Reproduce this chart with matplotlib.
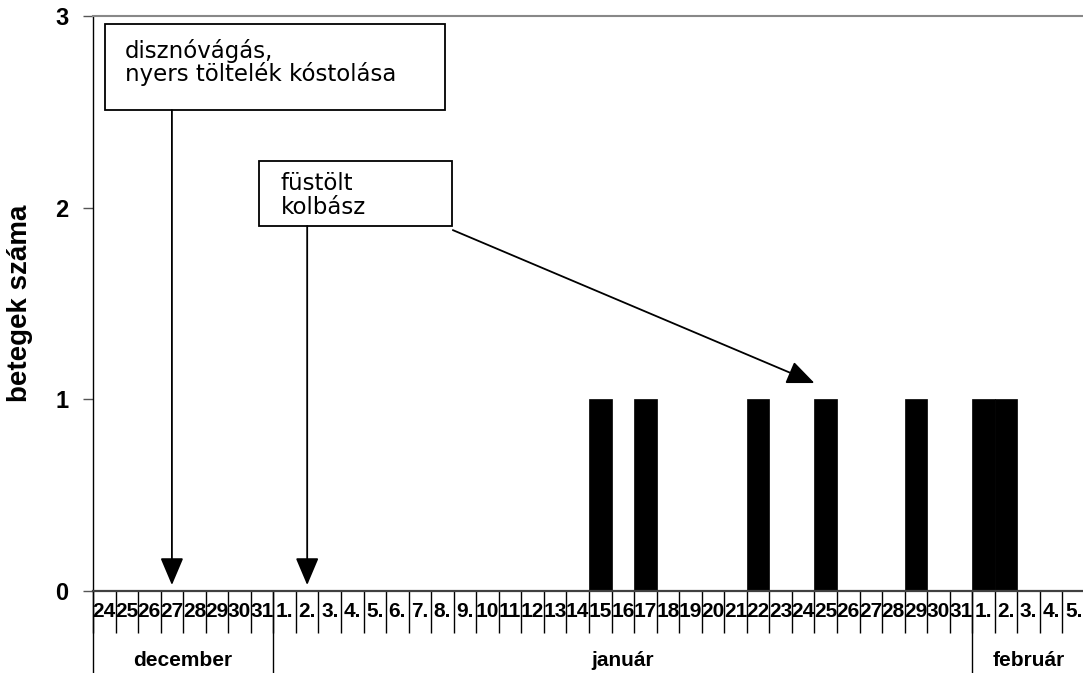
import numpy as np
import matplotlib.pyplot as plt
from matplotlib.patches import Rectangle
from matplotlib.transforms import blended_transform_factory

plt.rcParams['font.family'] = ['Liberation Sans', 'DejaVu Sans']

# days shown on the x axis
dec_days = list(range(24, 32))
jan_days = list(range(1, 32))
feb_days = list(range(1, 6))
months = ['december', 'január', 'február']

# days with one patient each
sick_days = [('jan', 15), ('jan', 17), ('jan', 22), ('jan', 25),
             ('jan', 29), ('feb', 1), ('feb', 2)]

days = [('dec', d) for d in dec_days] + [('jan', d) for d in jan_days] + \
       [('feb', d) for d in feb_days]
counts = [1 if day in sick_days else 0 for day in days]
labels = [f"{d}." if d < 10 else f"{d}" for _, d in days]
x = np.arange(len(days))

fig = plt.figure(figsize=(10.83, 6.73), dpi=100)
ax = fig.add_axes([93 / 1083, 1 - 591 / 673, 992 / 1083, 575 / 673])

ax.bar(x, counts, width=1.0, color='black', edgecolor='black', linewidth=0.5)

ax.set_xlim(-0.5, len(days) - 0.5)
ax.set_ylim(0, 3)
ax.set_yticks([0, 1, 2, 3])
ax.tick_params(axis='y', length=7.5, width=1, color='#555555', pad=10,
               labelsize=17)
for t in ax.get_yticklabels():
    t.set_fontweight('bold')

ax.set_xticks(x)
ax.set_xticklabels(labels, fontsize=15, fontweight='bold')
ax.set_xticks(np.arange(len(days) + 1) - 0.5, minor=True)
ax.tick_params(axis='x', which='major', length=0, pad=8)
ax.tick_params(axis='x', which='minor', length=30, width=1, color='black')

ax.spines['right'].set_visible(False)
ax.spines['top'].set_color('#888888')
ax.spines['top'].set_linewidth(1.5)
ax.spines['bottom'].set_color('#404040')
ax.spines['bottom'].set_linewidth(1.6)
ax.spines['left'].set_color('black')
ax.spines['left'].set_linewidth(1.0)

ax.set_ylabel('betegek száma', fontsize=20, fontweight='bold')
ax.yaxis.set_label_coords(-0.06, 0.5)

# month groups below the day labels
trans = blended_transform_factory(ax.transData, ax.transAxes)
bounds = [0, len(dec_days), len(dec_days) + len(jan_days), len(days)]
for b in bounds[:-1]:
    ax.plot([b - 0.5, b - 0.5], [0, -0.16], transform=trans, color='black',
            lw=1.0, clip_on=False)
for i, m in enumerate(months):
    c = (bounds[i] + bounds[i + 1]) / 2 - 0.5
    ax.text(c, -0.12, m, transform=trans, ha='center', va='center',
            fontsize=15, fontweight='bold')

# annotation boxes
ax.add_patch(Rectangle((0.03, 2.509), 15.08, 0.449, fill=False,
                       edgecolor='black', lw=1.3, clip_on=False))
ax.text(0.92, 2.88, 'disznóvágás,\nnyers töltelék kóstolása', ha='left',
        va='top', fontsize=16.5, family='DejaVu Sans', linespacing=0.95)
ax.add_patch(Rectangle((6.86, 1.904), 8.56, 0.34, fill=False,
                       edgecolor='black', lw=1.3, clip_on=False))
ax.text(7.82, 2.185, 'füstölt\nkolbász', ha='left', va='top', fontsize=16.5,
        family='DejaVu Sans', linespacing=1.05)

arrow = dict(arrowstyle='-|>,head_length=0.85,head_width=0.36',
             mutation_scale=20, color='black', lw=1.3, shrinkA=0, shrinkB=0)
ax.annotate('', xy=(3, 0.031), xytext=(3, 2.509), arrowprops=arrow)
ax.annotate('', xy=(9, 0.031), xytext=(9, 1.904), arrowprops=arrow)
ax.annotate('', xy=(31.5, 1.085), xytext=(15.46, 1.883), arrowprops=arrow)

fig.savefig('out.png', dpi=100)
